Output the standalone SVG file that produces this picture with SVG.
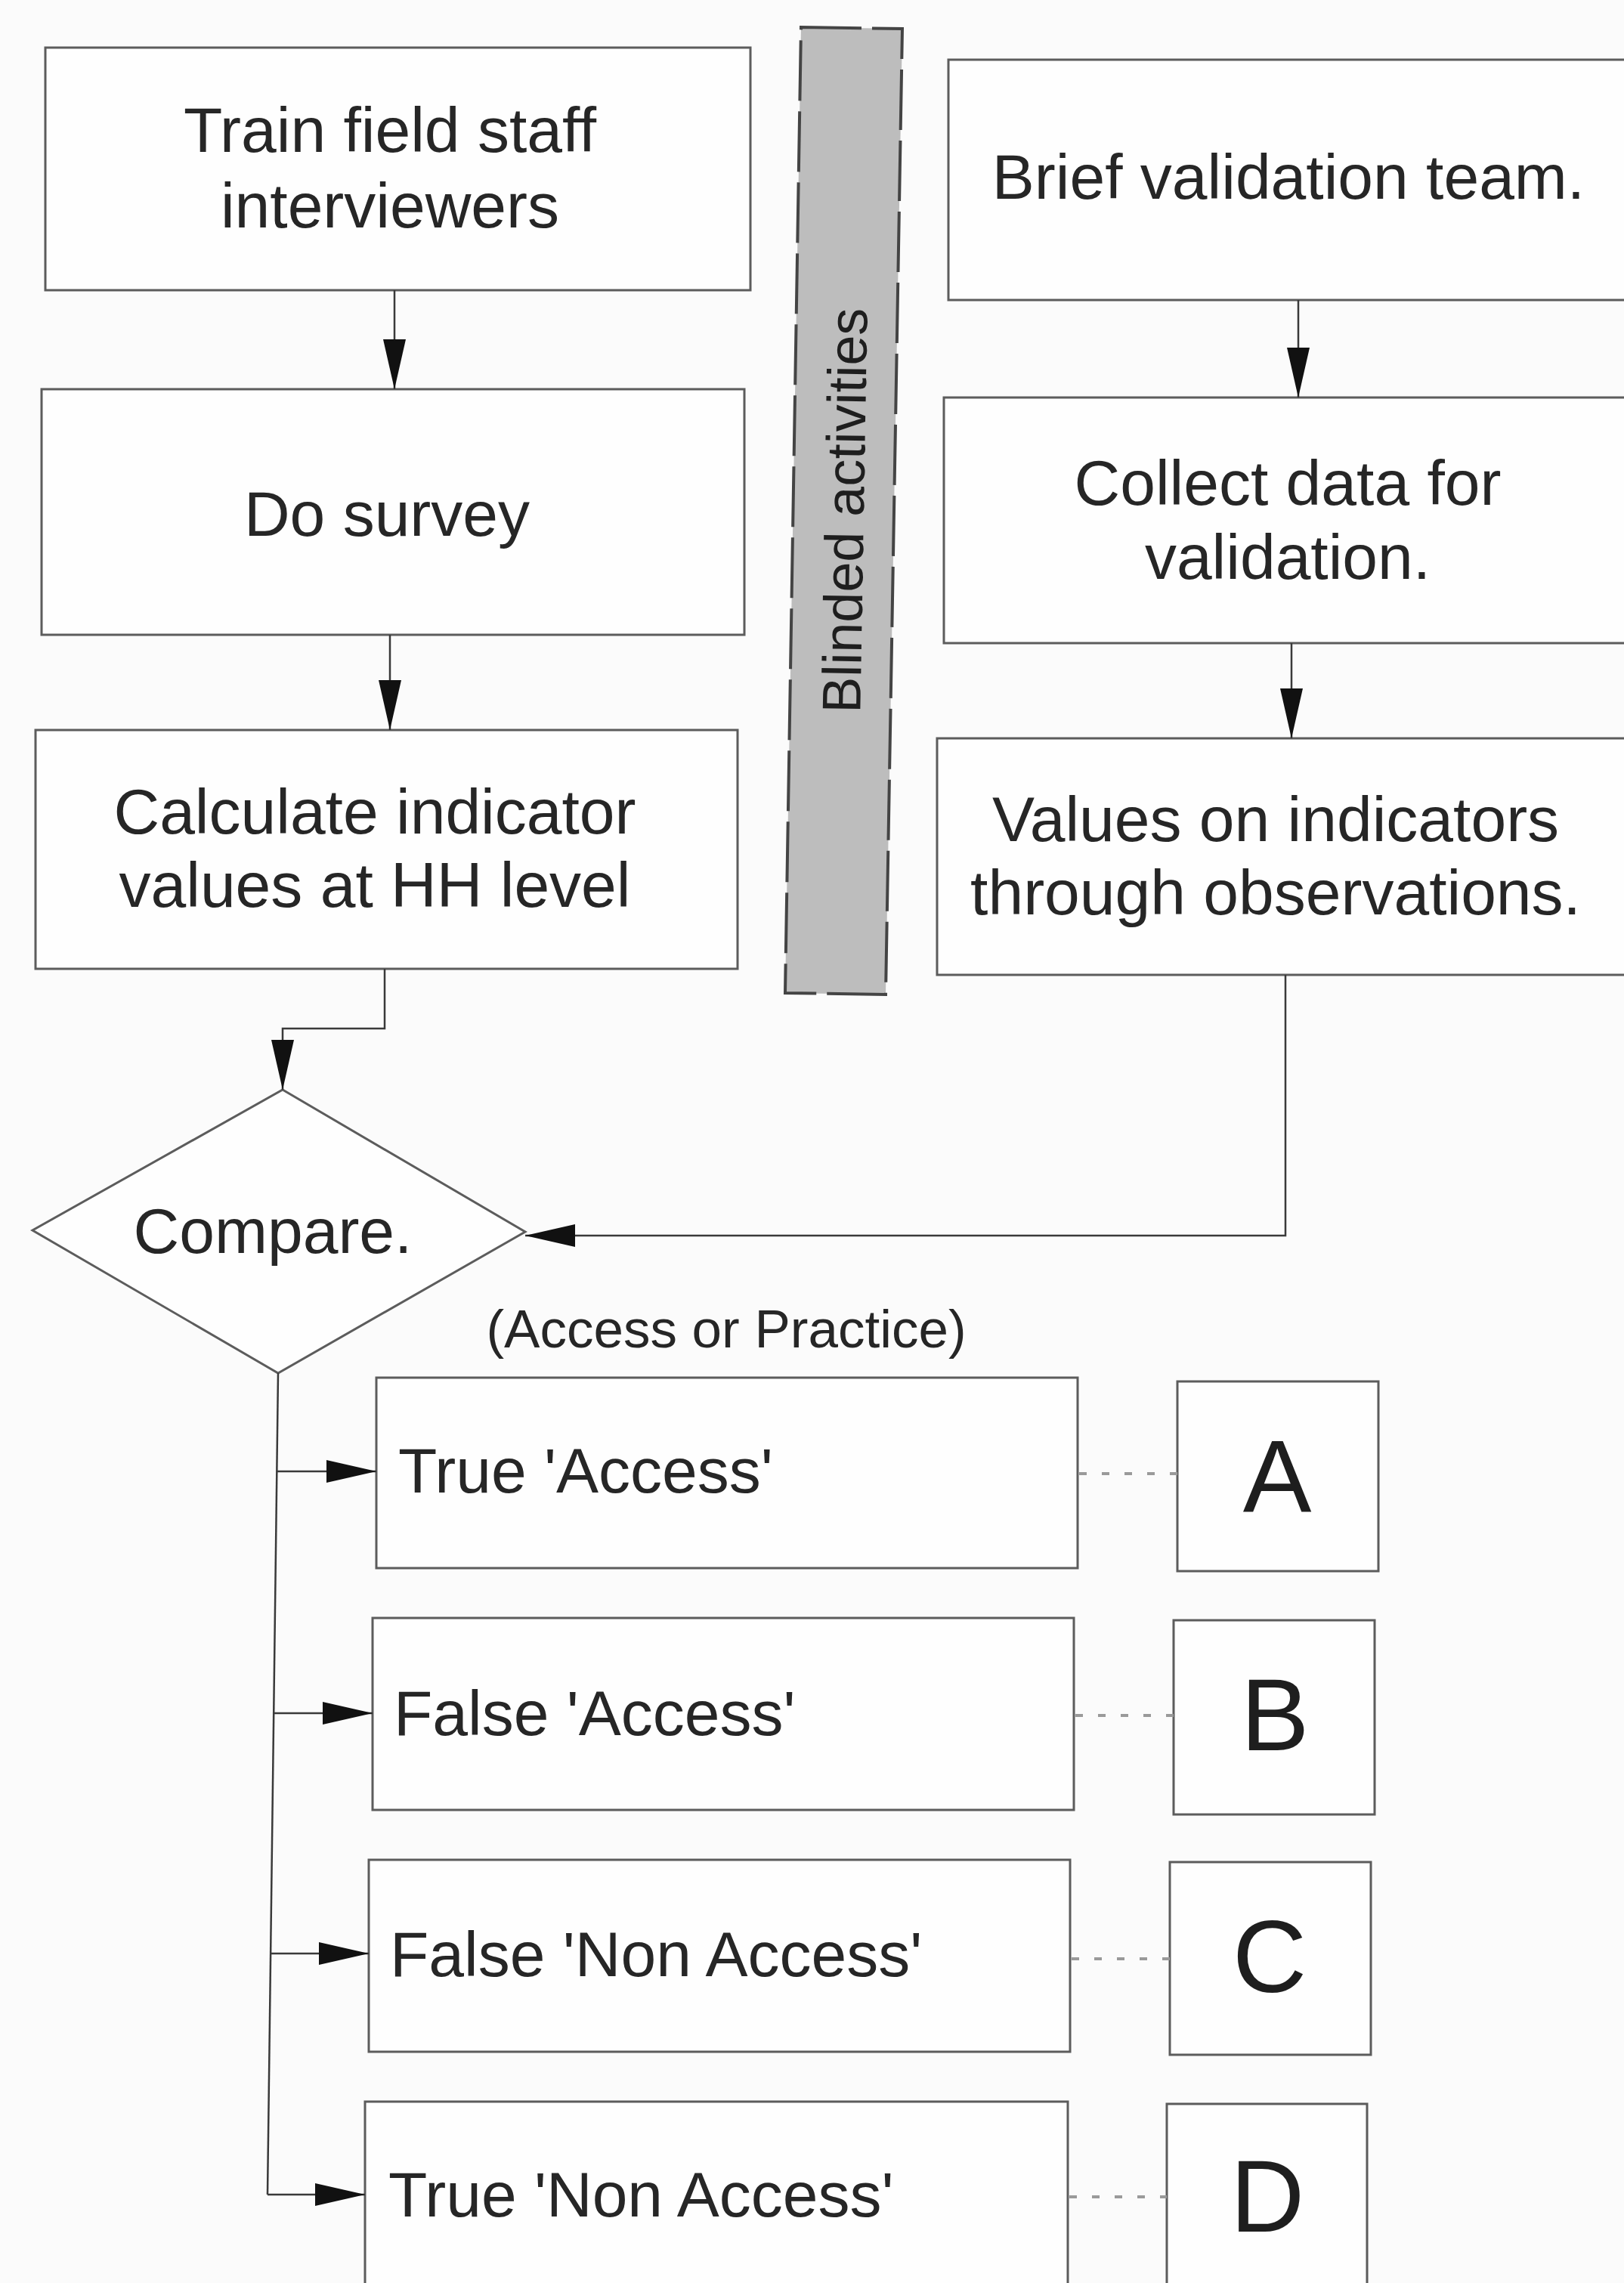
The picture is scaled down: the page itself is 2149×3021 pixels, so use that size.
<svg xmlns="http://www.w3.org/2000/svg" width="2149" height="3021" viewBox="0 0 2149 3021">
<style>
.box{fill:#fefefe;stroke:#5c5c5c;stroke-width:3}
.t{font-family:"Liberation Sans",Arial,Helvetica,sans-serif;font-size:84px;fill:#262626}
.tm{text-anchor:middle}
.big{font-family:"Liberation Sans",Arial,Helvetica,sans-serif;font-size:136px;fill:#1e1e1e;text-anchor:middle}
.con{fill:none;stroke:#3a3a3a;stroke-width:2.5}
.dot{fill:none;stroke:#9a9a9a;stroke-width:4;stroke-dasharray:10 20}
</style>
<defs>
<marker id="ah" markerUnits="userSpaceOnUse" markerWidth="68" markerHeight="32" refX="66" refY="15" orient="auto">
<path d="M0,0 L66,15 L0,30 z" fill="#111"/>
</marker>
</defs>
<rect x="0" y="0" width="2149" height="3021" fill="#fbfbfb"/>

<g id="blinded">
<polygon points="1060,36 1194,38 1172,1316 1039,1314" fill="#bdbdbd" stroke="#444" stroke-width="4" stroke-dasharray="80 14"/>
<text class="t tm" transform="rotate(-89 1143 676)" x="1143" y="676" style="font-size:72px;fill:#1e1e1e">Blinded activities</text>
</g>

<g id="train">
<rect class="box" x="60" y="63" width="933" height="321"/>
<text class="t tm" x="516" y="201">Train field staff</text>
<text class="t tm" x="516" y="301">interviewers</text>
</g>
<g id="survey">
<rect class="box" x="55" y="515" width="930" height="325"/>
<text class="t tm" x="512" y="709">Do survey</text>
</g>
<g id="calculate">
<rect class="box" x="47" y="966" width="929" height="316"/>
<text class="t tm" x="496" y="1103">Calculate indicator</text>
<text class="t tm" x="496" y="1200">values at HH level</text>
</g>

<g id="brief">
<rect class="box" x="1255" y="79" width="960" height="318"/>
<text class="t tm" x="1705" y="263">Brief validation team.</text>
</g>
<g id="collect">
<rect class="box" x="1249" y="526" width="960" height="325"/>
<text class="t tm" x="1704" y="668">Collect data for</text>
<text class="t tm" x="1704" y="766">validation.</text>
</g>
<g id="values">
<rect class="box" x="1240" y="977" width="970" height="313"/>
<text class="t tm" x="1688" y="1113">Values on indicators</text>
<text class="t tm" x="1688" y="1210">through observations.</text>
</g>

<g id="compare">
<polygon class="box" points="374,1442 695,1630 368,1817 43,1628"/>
<text class="t tm" x="361" y="1658">Compare.</text>
</g>
<g id="label-access-practice">
<text class="t tm" x="961" y="1783" style="font-size:71px">(Access or Practice)</text>
</g>

<g id="true-access">
<rect class="box" x="498" y="1823" width="928" height="252"/>
<text class="t" x="527" y="1975">True 'Access'</text>
</g>
<g id="false-access">
<rect class="box" x="493" y="2141" width="928" height="254"/>
<text class="t" x="521" y="2296">False 'Access'</text>
</g>
<g id="false-non-access">
<rect class="box" x="488" y="2461" width="928" height="254"/>
<text class="t" x="516" y="2615">False 'Non Access'</text>
</g>
<g id="true-non-access">
<rect class="box" x="483" y="2781" width="930" height="300"/>
<text class="t" x="514" y="2933">True 'Non Access'</text>
</g>

<g id="letter-a">
<rect class="box" x="1558" y="1828" width="266" height="251"/>
<text class="big" x="1690" y="2000">A</text>
</g>
<g id="letter-b">
<rect class="box" x="1553" y="2144" width="266" height="257"/>
<text class="big" x="1687" y="2316">B</text>
</g>
<g id="letter-c">
<rect class="box" x="1548" y="2464" width="266" height="255"/>
<text class="big" x="1680" y="2636">C</text>
</g>
<g id="letter-d">
<rect class="box" x="1544" y="2784" width="265" height="300"/>
<text class="big" x="1677" y="2953">D</text>
</g>

<g id="connectors">
<path class="con" d="M522,384 V515" marker-end="url(#ah)"/>
<path class="con" d="M516,840 V966" marker-end="url(#ah)"/>
<path class="con" d="M509,1282 V1361 H374 V1442" marker-end="url(#ah)"/>
<path class="con" d="M1718,397 V526" marker-end="url(#ah)"/>
<path class="con" d="M1709,851 V977" marker-end="url(#ah)"/>
<path class="con" d="M1701,1290 V1635 H695" marker-end="url(#ah)"/>
<path class="con" d="M368,1817 L354,2904"/>
<path class="con" d="M366,1947 H498" marker-end="url(#ah)"/>
<path class="con" d="M362,2267 H493" marker-end="url(#ah)"/>
<path class="con" d="M358,2585 H488" marker-end="url(#ah)"/>
<path class="con" d="M354,2904 H483" marker-end="url(#ah)"/>
<path class="dot" d="M1428,1950 H1558"/>
<path class="dot" d="M1423,2270 H1553"/>
<path class="dot" d="M1418,2592 H1548"/>
<path class="dot" d="M1415,2907 H1544"/>
</g>
</svg>
